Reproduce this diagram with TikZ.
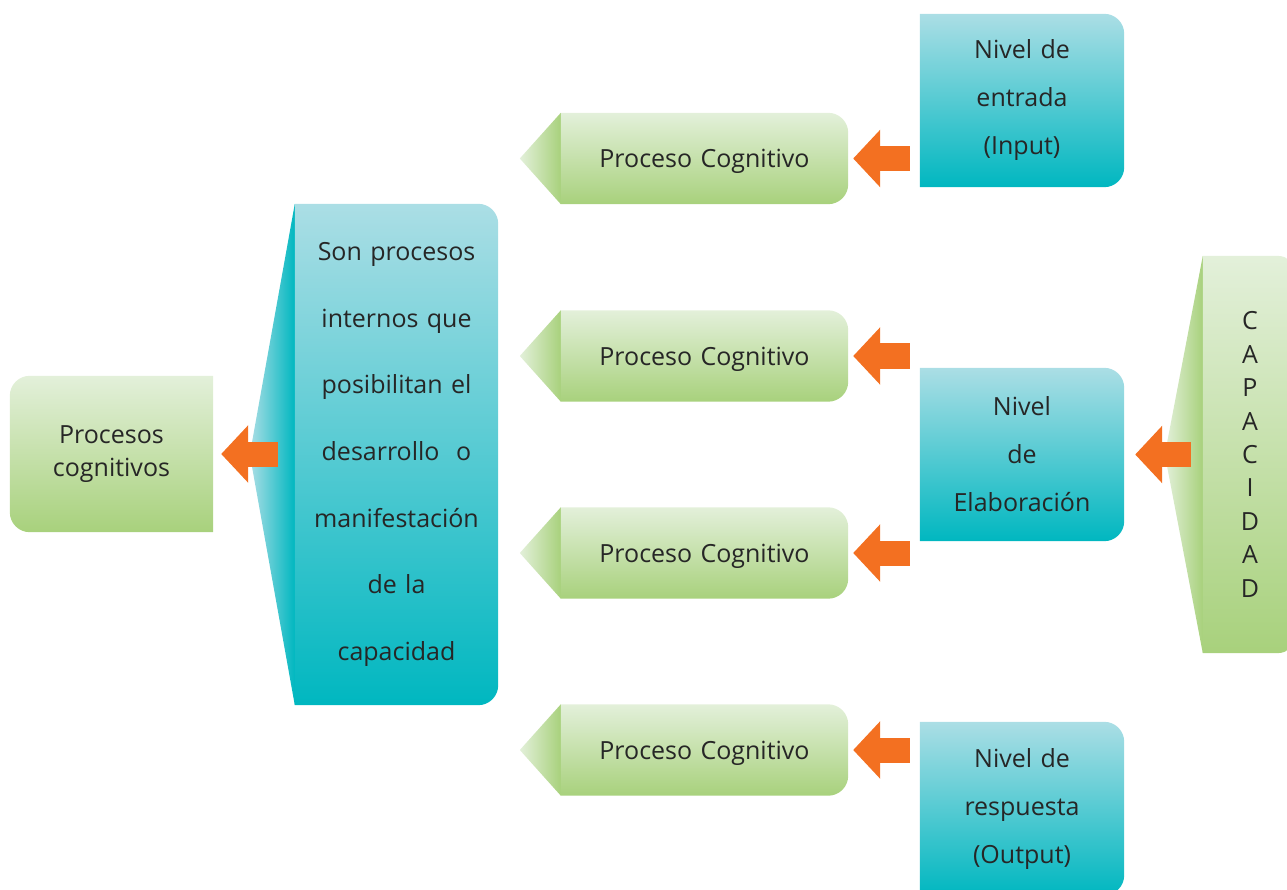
\documentclass[tikz,border=0pt]{standalone}
\usepackage{fontspec}
\setmainfont{Open Sans}
\usetikzlibrary{arrows.meta,backgrounds}

\definecolor{greentop}{RGB}{227,240,218}
\definecolor{greenbot}{RGB}{168,209,124}
\definecolor{tealtop}{RGB}{171,222,229}
\definecolor{tealbot}{RGB}{0,183,192}
\definecolor{arroworange}{RGB}{243,112,33}
\definecolor{textgray}{RGB}{38,38,38}

\tikzset{
    box/.style n args={2}{inner sep=0pt, minimum width=#1, minimum height=#2,
        align=center, text=textgray, font=\fontsize{25}{33}\selectfont},
    greenfill/.style={top color=greentop, bottom color=greenbot},
    tealfill/.style={top color=tealtop, bottom color=tealbot},
    orangearrow/.style={draw=arroworange, line width=25pt,
        -{Triangle[length=27pt, width=56pt]}},
}

% box with the two right corners rounded
\newcommand{\rightroundbox}[2]{
    \path[#2] (#1.north west) -- ([xshift=-20pt]#1.north east)
        arc[start angle=90, end angle=0, radius=20pt]
        -- ([yshift=20pt]#1.south east)
        arc[start angle=0, end angle=-90, radius=20pt]
        -- (#1.south west) -- cycle;
}

\begin{document}
\begin{tikzpicture}[x=1pt, y=1pt]
    \useasboundingbox (0,0) rectangle (1287,-890);

    % left column
    \node[box={203pt}{156pt}, text width=195pt] (proc) at (111.5,-454) {Procesos\\cognitivos};
    \node[box={203pt}{501pt}, text width=195pt, font=\fontsize{25}{66.7}\selectfont] (big) at (396.5,-454.5)
        {Son procesos\\internos que\\posibilitan el\\desarrollo~ o\\manifestación\\de la\\capacidad};

    % middle column
    \foreach \i/\y in {1/158.5, 2/356, 3/553, 4/750} {
        \node[box={287pt}{91pt}, text width=280pt, text depth=0pt] (pc\i) at (704.5,-\y) {Proceso Cognitivo};
    }

    % right column
    \node[box={204pt}{173pt}, text width=195pt, font=\fontsize{25}{48}\selectfont] (nivin) at (1022,-100.5)
        {Nivel de\\entrada\\(Input)};
    \node[box={204pt}{173pt}, text width=195pt, font=\fontsize{25}{48}\selectfont] (nivel) at (1022,-454.5)
        {Nivel\\de\\Elaboración};
    \node[box={204pt}{173pt}, text width=195pt, font=\fontsize{25}{48}\selectfont] (nivout) at (1022,-808.5)
        {Nivel de\\respuesta\\(Output)};
    \node[box={94pt}{397pt}, text width=80pt, font=\fontsize{25}{33.4}\selectfont] (cap) at (1250,-454.5)
        {C\\A\\P\\A\\C\\I\\D\\A\\D};

    \begin{scope}[on background layer]
        % procesos cognitivos, rounded on the left
        \path[greenfill] (proc.north east) -- ([xshift=20pt]proc.north west)
            arc[start angle=90, end angle=180, radius=20pt]
            -- ([yshift=20pt]proc.south west)
            arc[start angle=180, end angle=270, radius=20pt]
            -- (proc.south east) -- cycle;

        \path[left color=tealtop, right color=tealbot]
            (big.north west) -- ([xshift=-45pt]big.west) -- (big.south west) -- cycle;
        \rightroundbox{big}{tealfill}

        \foreach \i in {1,...,4} {
            \path[left color=greentop, right color=greenbot]
                (pc\i.north west) -- ([xshift=-41pt]pc\i.west) -- (pc\i.south west) -- cycle;
            \rightroundbox{pc\i}{greenfill}
        }

        \rightroundbox{nivin}{tealfill}
        \rightroundbox{nivel}{tealfill}
        \rightroundbox{nivout}{tealfill}

        \path[left color=greentop, right color=greenbot]
            (cap.north west) -- ([xshift=-38pt]cap.west) -- (cap.south west) -- cycle;
        \rightroundbox{cap}{greenfill}
    \end{scope}

    % arrows
    \draw[orangearrow, shorten <=17pt, shorten >=8pt] (proc.east -| big.west) -- (proc.east);
    \draw[orangearrow, shorten <=10pt, shorten >=5pt] (pc1.east -| nivin.west) -- (pc1.east);
    \draw[orangearrow, shorten <=10pt, shorten >=5pt] (pc2.east -| nivel.west) -- (pc2.east);
    \draw[orangearrow, shorten <=10pt, shorten >=5pt] (pc3.east -| nivel.west) -- (pc3.east);
    \draw[orangearrow, shorten <=10pt, shorten >=5pt] (pc4.east -| nivout.west) -- (pc4.east);
    \draw[orangearrow, shorten <=12pt, shorten >=11pt] (nivel.east -| cap.west) -- (nivel.east);
\end{tikzpicture}
\end{document}
